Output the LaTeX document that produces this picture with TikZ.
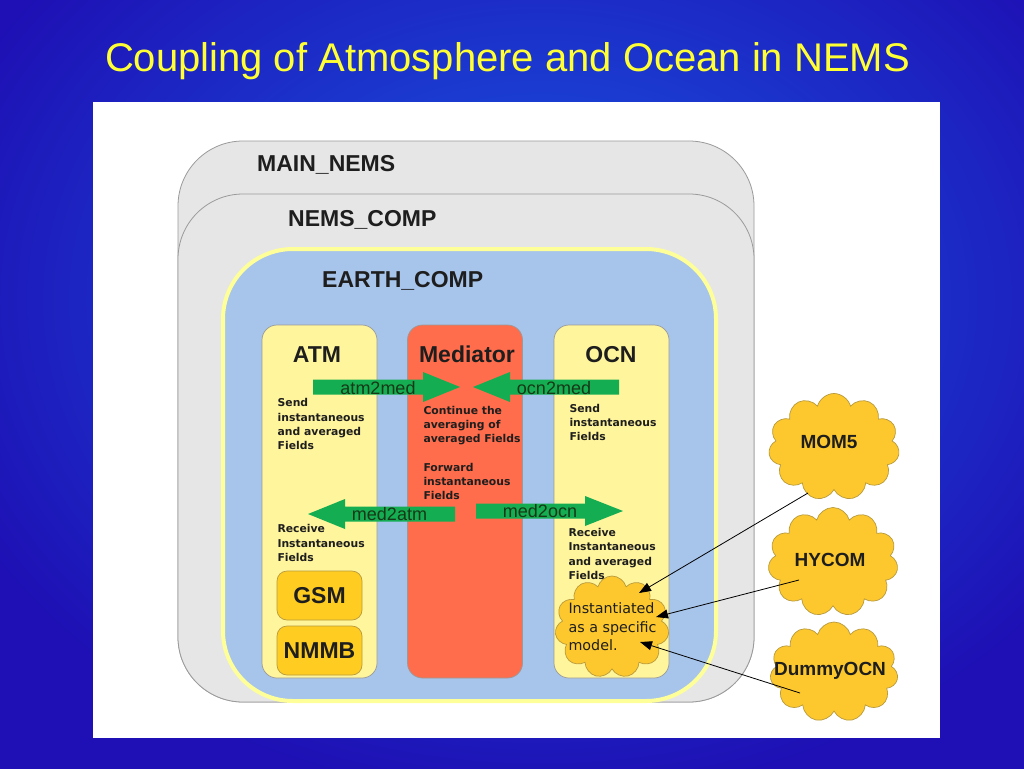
\documentclass[tikz,border=0pt]{standalone}
\usepackage{fontspec}
\setmainfont{Liberation Sans}
\newfontfamily\dejavu{DejaVu Sans}
\usetikzlibrary{shapes.symbols,arrows.meta}
\definecolor{bgin}{HTML}{185AE4}
\definecolor{bgout}{HTML}{1E10B4}
\definecolor{titley}{HTML}{FFFF33}
\definecolor{boxgray}{HTML}{E6E6E6}
\definecolor{edgegray}{HTML}{9A9A9A}
\definecolor{earthblue}{HTML}{A7C4EA}
\definecolor{earthedge}{HTML}{FFFF99}
\definecolor{compyellow}{HTML}{FFF59D}
\definecolor{medred}{HTML}{FF6D4C}
\definecolor{gold}{HTML}{FFCC22}
\definecolor{goldedge}{HTML}{B89A3C}
\definecolor{cloudfill}{HTML}{FDC82E}
\definecolor{flowgreen}{HTML}{14AD52}
\definecolor{inkdark}{HTML}{1E1E1E}
\definecolor{greentext}{HTML}{163816}
\newcommand\fsz[1]{\fontsize{#1}{#1}\selectfont}
\newcommand\txtlines[2]{\vtop{\baselineskip=#1\relax\lineskiplimit=-20pt\let\\\cr\halign{##\hfil\cr#2\crcr}}}
\begin{document}
\begin{tikzpicture}[x=1pt,y=-1pt,
  container/.style={draw=edgegray, line width=0.8pt, fill=boxgray, rounded corners=65pt, inner sep=0pt, minimum width=576pt},
  comp/.style={draw=edgegray, line width=0.7pt, rounded corners=15pt, inner sep=0pt, minimum width=115pt, minimum height=353pt},
  model/.style={draw=goldedge, line width=0.7pt, fill=gold, rounded corners=10pt, minimum width=85pt, minimum height=49pt, inner sep=0pt, font=\fsz{23}\bfseries, text=inkdark},
  cloudnode/.style={cloud, cloud puffs=11, cloud ignores aspect, draw=goldedge, fill=cloudfill, line width=0.7pt, inner sep=0pt},
  biglabel/.style={font=\fsz{23}\bfseries, text=inkdark, inner sep=0pt},
  smalltxt/.style={font=\dejavu\bfseries\fsz{10.8}, text=inkdark, inner sep=0pt, anchor=base west},
  flow/.style={fill=flowgreen},
  flowlabel/.style={font=\fsz{18}, text=greentext, inner sep=0pt, anchor=base},
  modellabel/.style={font=\fsz{19}\bfseries, text=inkdark, inner sep=0pt},
  pointer/.style={draw=black, line width=0.8pt, -{Triangle[length=12pt,width=9pt]}}]
\useasboundingbox (0,0) rectangle (1024,768);
\begin{scope}
\clip (0,0) rectangle (1024,768);
\shade[inner color=bgin, outer color=bgout] (-100,-200) rectangle (1180,800);
\end{scope}
\node[font=\fsz{40}, text=titley, anchor=base, inner sep=0pt] (title) at (507.5,71) {Coupling of Atmosphere and Ocean in NEMS};
\node[fill=white, minimum width=847pt, minimum height=636pt, inner sep=0pt, anchor=north west] (panel) at (93,102) {};
% containers
\node[container, minimum height=561pt] (mainnems) at (466,421.5) {};
\node[container, minimum height=508pt] (nemscomp) at (466,448) {};
\node[draw=earthedge, line width=4pt, fill=earthblue, rounded corners=70pt, minimum width=493pt, minimum height=452pt, inner sep=0pt] (earth) at (469.5,475) {};
\node[biglabel, anchor=base west] (mainlbl) at (257,171) {MAIN\_NEMS};
\node[biglabel, anchor=base west] (nemslbl) at (288,226) {NEMS\_COMP};
\node[biglabel, anchor=base west] (earthlbl) at (322,287) {EARTH\_COMP};
% components
\node[comp, fill=compyellow] (atm) at (319.5,501.5) {};
\node[comp, fill=medred] (med) at (465,501.5) {};
\node[comp, fill=compyellow] (ocn) at (611.5,501.5) {};
\node[biglabel, anchor=base] (atmlbl) at (317,362) {ATM};
\node[biglabel, anchor=base] (medlbl) at (467,362) {Mediator};
\node[biglabel, anchor=base] (ocnlbl) at (611,362) {OCN};
\node[model] (gsm) at (319.5,595.5) {GSM};
\node[model] (nmmb) at (319.5,650.5) {NMMB};
% inner cloud
\node[cloudnode, minimum width=114pt, minimum height=102pt] (inst) at (612,627) {};
\node[font=\dejavu\fsz{14.3}, text=inkdark, inner sep=0pt, anchor=base west] (insttxt) at (568.3,613.3) {\txtlines{18.8pt}{Instantiated\\as a specific\\model.}};
% small texts
\node[smalltxt] (atmsend) at (277.5,406.7) {\txtlines{14.4pt}{Send\\instantaneous\\and averaged\\Fields}};
\node[smalltxt] (atmrecv) at (277.3,532.7) {\txtlines{14.5pt}{Receive\\Instantaneous\\Fields}};
\node[smalltxt] (medcont) at (423.3,414.5) {\txtlines{14pt}{Continue the\\averaging of\\averaged Fields}};
\node[smalltxt] (medfwd) at (423.3,471.7) {\txtlines{14pt}{Forward\\instantaneous\\Fields}};
\node[smalltxt] (ocnsend) at (569.3,412.7) {\txtlines{14pt}{Send\\instantaneous\\Fields}};
\node[smalltxt] (ocnrecv) at (568.3,536.7) {\txtlines{14.2pt}{Receive\\Instantaneous\\and averaged\\Fields}};
% green flow arrows
\fill[flow] (313,379.5) -- (423,379.5) -- (423,372) -- (460,387) -- (423,402) -- (423,394.5) -- (313,394.5) -- cycle;
\fill[flow] (619,379.5) -- (510,379.5) -- (510,372) -- (473,387) -- (510,402) -- (510,394.5) -- (619,394.5) -- cycle;
\fill[flow] (455,506.5) -- (345,506.5) -- (345,499) -- (308,514) -- (345,529) -- (345,521.5) -- (455,521.5) -- cycle;
\fill[flow] (476,503.5) -- (585,503.5) -- (585,496) -- (623,511) -- (585,526) -- (585,518.5) -- (476,518.5) -- cycle;
\node[flowlabel] (atm2med) at (378,394) {atm2med};
\node[flowlabel] (ocn2med) at (554,394) {ocn2med};
\node[flowlabel] (med2atm) at (389.5,520) {med2atm};
\node[flowlabel] (med2ocn) at (540,517) {med2ocn};
% ocean model clouds
\node[cloudnode, minimum width=131pt, minimum height=107pt] (mom5) at (834,447) {};
\node[cloudnode, minimum width=130pt, minimum height=109pt] (hycom) at (833,562) {};
\node[cloudnode, minimum width=128pt, minimum height=100pt] (dummy) at (834,672) {};
\node[modellabel] (mom5lbl) at (829,442) {MOM5};
\node[modellabel] (hycomlbl) at (830,560) {HYCOM};
\node[modellabel] (dummylbl) at (830,671) {DummyOCN};
% pointers
\coordinate (m5s) at (808,493);
\coordinate (m5t) at (639,593);
\coordinate (hys) at (799,580);
\coordinate (hyt) at (656,617);
\coordinate (dus) at (800,693);
\coordinate (dut) at (640,642);
\draw[pointer] (m5s) -- (m5t);
\draw[pointer] (hys) -- (hyt);
\draw[pointer] (dus) -- (dut);
\end{tikzpicture}
\end{document}
